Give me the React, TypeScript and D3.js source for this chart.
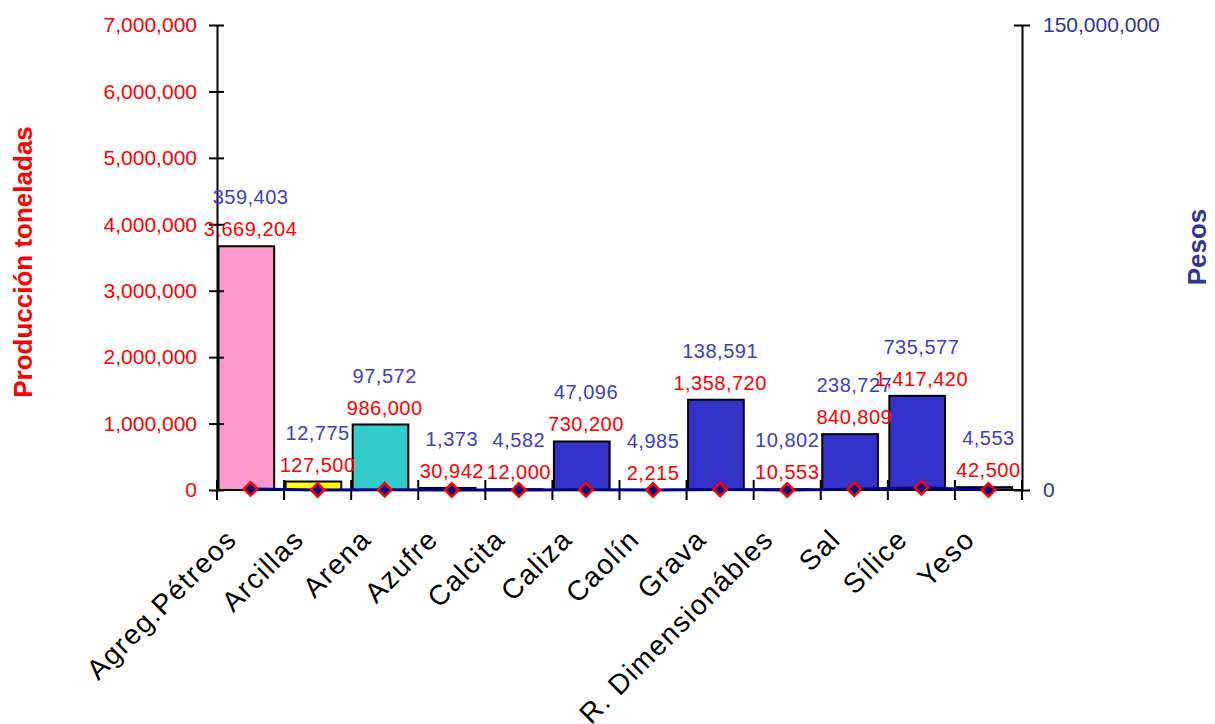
import React, { useRef, useEffect } from "react";
import * as d3 from "d3";

const categories = [
  "Agreg.Pétreos",
  "Arcillas",
  "Arena",
  "Azufre",
  "Calcita",
  "Caliza",
  "Caolín",
  "Grava",
  "R. Dimensionábles",
  "Sal",
  "Sílice",
  "Yeso",
];

// Producción toneladas (bars, left axis)
const toneladas = [3669204, 127500, 986000, 30942, 12000, 730200, 2215, 1358720, 10553, 840809, 1417420, 42500];

// Pesos (line, right axis)
const pesos = [359403, 12775, 97572, 1373, 4582, 47096, 4985, 138591, 10802, 238727, 735577, 4553];

const barColors = [
  "#FF99CC",
  "#FFFF00",
  "#33CCCC",
  "#3333CC",
  "#3333CC",
  "#3333CC",
  "#3333CC",
  "#3333CC",
  "#3333CC",
  "#3333CC",
  "#3333CC",
  "#3333CC",
];

const leftTicks = [0, 1000000, 2000000, 3000000, 4000000, 5000000, 6000000, 7000000];
const rightTicks = [0, 150000000];

const FONT = "'Liberation Sans', Arial, sans-serif";

const App = () => {
  const svgRef = useRef<SVGSVGElement>(null);

  useEffect(() => {
    const width = 1215;
    const height = 724;
    const left = 217;
    const right = 1022;
    const top = 25;
    const bottom = 490;

    const svg = d3.select(svgRef.current);
    svg.selectAll("*").remove();
    svg.attr("width", width).attr("height", height);

    const x = d3.scaleBand<string>().domain(categories).range([left, right]).padding(0);
    const yL = d3.scaleLinear().domain([0, 7000000]).range([bottom, top]);
    const yR = d3.scaleLinear().domain([0, 150000000]).range([bottom, top]);
    const bw = x.bandwidth();
    const fmt = d3.format(",");

    // Bars
    svg
      .append("g")
      .selectAll("rect")
      .data(categories)
      .enter()
      .append("rect")
      .attr("x", (d) => x(d)! + 1.5)
      .attr("y", (d, i) => yL(toneladas[i]))
      .attr("width", bw * 0.83)
      .attr("height", (d, i) => bottom - yL(toneladas[i]))
      .attr("fill", (d, i) => barColors[i])
      .attr("stroke", "#000")
      .attr("stroke-width", 2);

    // Category axis line and boundary ticks
    const gx = svg.append("g");
    gx.append("line")
      .attr("x1", left)
      .attr("x2", right)
      .attr("y1", bottom)
      .attr("y2", bottom)
      .attr("stroke", "#000")
      .attr("stroke-width", 2);
    const bounds = categories.map((c) => x(c)!).concat([right]);
    gx.selectAll("line.tick")
      .data(bounds)
      .enter()
      .append("line")
      .attr("class", "tick")
      .attr("x1", (d) => d)
      .attr("x2", (d) => d)
      .attr("y1", bottom - 10)
      .attr("y2", bottom + 10)
      .attr("stroke", "#000")
      .attr("stroke-width", 2);

    gx.selectAll("text")
      .data(categories)
      .enter()
      .append("text")
      .attr("transform", (d) => `translate(${x(d)! + bw / 2 - 12},${541}) rotate(-45)`)
      .attr("text-anchor", "end")
      .attr("font-family", FONT)
      .attr("font-size", 28)
      .attr("letter-spacing", 1.5)
      .attr("fill", "#000")
      .text((d) => d);

    // Left axis
    const gl = svg
      .append("g")
      .attr("transform", `translate(${left},0)`)
      .call(
        d3
          .axisLeft(yL)
          .tickValues(leftTicks)
          .tickFormat((d) => fmt(d as number))
          .tickSize(8)
          .tickSizeOuter(0)
          .tickPadding(12)
      );
    gl.select(".domain").attr("stroke", "#000").attr("stroke-width", 2);
    gl.selectAll(".tick line").attr("x1", 7).attr("stroke", "#000").attr("stroke-width", 2);
    gl.selectAll(".tick text")
      .attr("fill", "#FF0000")
      .attr("font-family", FONT)
      .attr("font-size", 21);

    // Right axis
    const gr = svg
      .append("g")
      .attr("transform", `translate(${right},0)`)
      .call(
        d3
          .axisRight(yR)
          .tickValues(rightTicks)
          .tickFormat((d) => fmt(d as number))
          .tickSize(8)
          .tickSizeOuter(0)
          .tickPadding(13)
      );
    gr.select(".domain").attr("stroke", "#000").attr("stroke-width", 2);
    gr.selectAll(".tick line").attr("x1", -8).attr("stroke", "#000").attr("stroke-width", 2);
    gr.selectAll(".tick text")
      .attr("fill", "#333399")
      .attr("font-family", FONT)
      .attr("font-size", 21);

    // Pesos line
    const line = d3
      .line<number>()
      .x((d, i) => x(categories[i])! + bw / 2)
      .y((d) => yR(d));
    svg
      .append("path")
      .datum(pesos)
      .attr("d", line)
      .attr("fill", "none")
      .attr("stroke", "#000080")
      .attr("stroke-width", 3);

    const diamond = d3.symbol().type(d3.symbolSquare).size(90);
    svg
      .append("g")
      .selectAll("path")
      .data(pesos)
      .enter()
      .append("path")
      .attr("d", diamond)
      .attr("transform", (d, i) => `translate(${x(categories[i])! + bw / 2},${yR(d)}) rotate(45)`)
      .attr("fill", "#000080")
      .attr("stroke", "#FF0000")
      .attr("stroke-width", 2.5);

    // Data labels
    svg
      .append("g")
      .selectAll("text")
      .data(toneladas)
      .enter()
      .append("text")
      .attr("x", (d, i) => x(categories[i])! + bw / 2)
      .attr("y", (d) => yL(d) - 10)
      .attr("text-anchor", "middle")
      .attr("font-family", FONT)
      .attr("font-size", 20)
      .attr("letter-spacing", 0.5)
      .attr("fill", "#FF0000")
      .text((d) => fmt(d));

    svg
      .append("g")
      .selectAll("text")
      .data(pesos)
      .enter()
      .append("text")
      .attr("x", (d, i) => x(categories[i])! + bw / 2)
      .attr("y", (d, i) => yL(toneladas[i]) - 42)
      .attr("text-anchor", "middle")
      .attr("font-family", FONT)
      .attr("font-size", 20)
      .attr("letter-spacing", 0.5)
      .attr("fill", "#3F3FC0")
      .text((d) => fmt(d));

    // Axis titles
    svg
      .append("text")
      .attr("transform", `translate(32,262) rotate(-90)`)
      .attr("text-anchor", "middle")
      .attr("font-family", FONT)
      .attr("font-size", 26)
      .attr("font-weight", "bold")
      .attr("fill", "#FF0000")
      .text("Producción toneladas");

    svg
      .append("text")
      .attr("transform", `translate(1206,247) rotate(-90)`)
      .attr("text-anchor", "middle")
      .attr("font-family", FONT)
      .attr("font-size", 26)
      .attr("font-weight", "bold")
      .attr("fill", "#333399")
      .text("Pesos");
  }, []);

  return (
    <svg
      ref={svgRef}
      style={{ position: "absolute", left: 0, top: 0, display: "block", background: "#fff" }}
    ></svg>
  );
};

export default App;
